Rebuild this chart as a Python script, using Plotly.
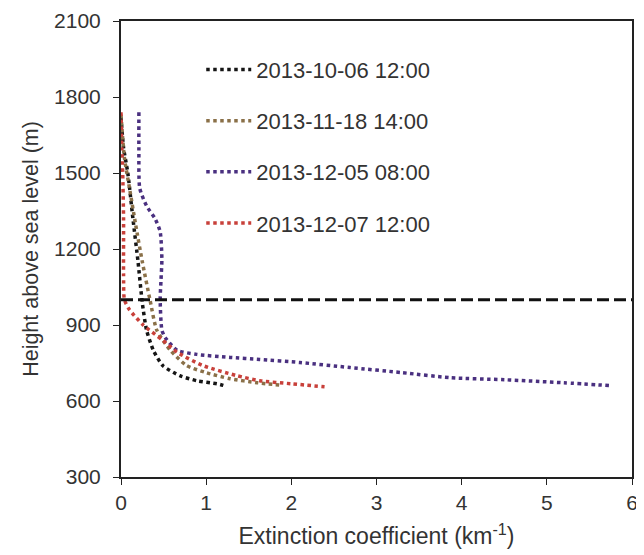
import plotly.graph_objects as go

labels = ["2013-10-06 12:00", "2013-11-18 14:00", "2013-12-05 08:00", "2013-12-07 12:00"]
colors = ["#151515", "#8a7048", "#4a3080", "#c8403a"]

ext_1006 = [0.0, 0.03, 0.08, 0.14, 0.2, 0.25, 0.3, 0.38, 0.49, 0.69, 0.89, 1.13, 1.22]
hgt_1006 = [1720, 1600, 1500, 1320, 1150, 988, 880, 800, 740, 700, 680, 668, 660]

ext_1118 = [0.0, 0.04, 0.1, 0.17, 0.25, 0.34, 0.42, 0.58, 0.77, 1.0, 1.28, 1.6, 1.89]
hgt_1118 = [1730, 1560, 1440, 1300, 1150, 1000, 880, 800, 740, 712, 688, 672, 662]

ext_1205 = [0.21, 0.21, 0.22, 0.3, 0.4, 0.46, 0.48, 0.47, 0.46, 0.48, 0.52, 0.66, 0.89, 1.28, 1.63, 2.1, 2.69, 3.3, 3.86, 4.5, 5.2, 5.77]
hgt_1205 = [1740, 1600, 1440, 1370, 1320, 1268, 1160, 1080, 1000, 880, 850, 800, 784, 772, 764, 752, 732, 712, 692, 684, 672, 660]

ext_1207 = [0.0, 0.01, 0.02, 0.03, 0.03, 0.04, 0.1, 0.26, 0.49, 0.66, 0.96, 1.36, 1.63, 2.0, 2.39]
hgt_1207 = [1740, 1600, 1500, 1320, 1100, 1000, 960, 900, 840, 792, 740, 700, 680, 668, 656]

series_x = [ext_1006, ext_1118, ext_1205, ext_1207]
series_y = [hgt_1006, hgt_1118, hgt_1205, hgt_1207]

threshold_height = 1000
x_ticks = [0, 1, 2, 3, 4, 5, 6]
y_ticks = [300, 600, 900, 1200, 1500, 1800, 2100]

FONT = "Liberation Sans, Arial"
TXT = "#333333"

fig = go.Figure()
for i, (xs, ys) in enumerate(zip(series_x, series_y)):
    fig.add_trace(go.Scatter(
        x=xs, y=ys, mode="lines", name=labels[i], legendgroup=labels[i],
        line=dict(color=colors[i], width=3.5, dash="dot", shape="spline", smoothing=0.6),
    ))

fig.add_shape(type="line", xref="paper", x0=0, x1=1, yref="y", y0=threshold_height, y1=threshold_height,
              line=dict(color="#111111", width=3, dash="12px,5px"))

axis_common = dict(showline=True, linecolor="#222222", linewidth=2, mirror=True, automargin=False,
                   ticks="outside", ticklen=6, tickcolor="#222222", showgrid=False, zeroline=False,
                   tickfont=dict(family=FONT, size=21, color=TXT))

fig.update_xaxes(range=[0, 6], tickvals=x_ticks, ticklabelstandoff=0,
                 title=dict(text="Extinction coefficient (km<sup>-1</sup>)",
                            font=dict(family=FONT, size=23, color=TXT), standoff=15), **axis_common)
fig.update_yaxes(range=[300, 2100], tickvals=y_ticks, ticklabelstandoff=8,
                 title=dict(text="Height above sea level (m)",
                            font=dict(family=FONT, size=21.5, color=TXT), standoff=10), **axis_common)

fig.update_layout(
    width=644, height=555,
    margin=dict(l=113, r=20, t=13, b=86),
    plot_bgcolor="white", paper_bgcolor="white",
    showlegend=True,
    legend=dict(x=0.157, y=0.939, xanchor="left", yanchor="top", bgcolor="rgba(0,0,0,0)",
                font=dict(family=FONT, size=22, color=TXT),
                itemwidth=45, tracegroupgap=19.5),
)

fig.write_html("out.html")
